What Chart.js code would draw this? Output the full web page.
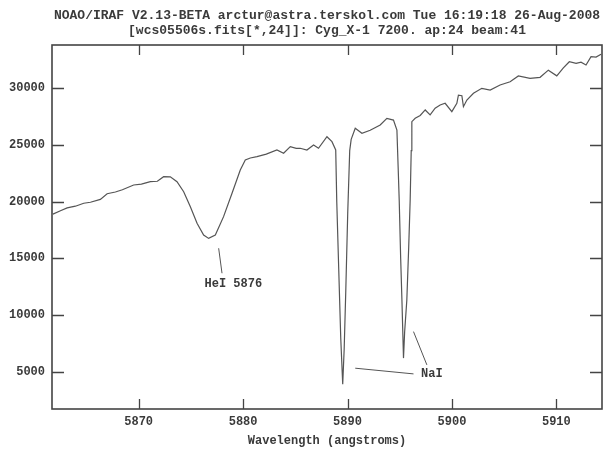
<!DOCTYPE html>
<html><head><meta charset="utf-8">
<script src="https://cdn.jsdelivr.net/npm/chart.js@4/dist/chart.umd.min.js"></script>
<style>html,body{margin:0;padding:0;background:#fff}#wrap{width:606px;height:451px}</style>
</head><body><div id="wrap"><canvas id="c" width="606" height="451"></canvas></div>
<script>
const titleLines = ["NOAO/IRAF V2.13-BETA arctur@astra.terskol.com Tue 16:19:18 26-Aug-2008",
                    "[wcs05506s.fits[*,24]]: Cyg_X-1 7200. ap:24 beam:41"];
const xTitle = "Wavelength (angstroms)";
const xTicks = [5870, 5880, 5890, 5900, 5910];
const yTicks = [5000, 10000, 15000, 20000, 25000, 30000];
const wavelength = [5861.79,5862.51,5863.15,5863.94,5864.74,5865.38,5866.33,5866.98,5867.77,5868.44,5869.52,5870.26,5871.12,5871.79,5872.39,5873.03,5873.67,5874.31,5874.95,5875.59,5876.22,5876.70,5877.34,5878.13,5878.94,5879.73,5880.21,5880.69,5881.33,5882.22,5883.24,5883.88,5884.52,5885.09,5885.47,5886.11,5886.75,5887.22,5888.03,5888.51,5888.87,5888.97,5889.16,5889.35,5889.54,5889.68,5889.83,5890.02,5890.21,5890.35,5890.74,5891.38,5892.17,5893.13,5893.77,5894.40,5894.73,5894.85,5894.95,5895.09,5895.21,5895.36,5895.47,5895.68,5895.86,5896.00,5896.10,5896.16,5896.48,5896.96,5897.44,5897.91,5898.39,5898.87,5899.35,5899.99,5900.47,5900.62,5900.95,5901.10,5901.43,5902.06,5902.86,5903.66,5904.61,5905.57,5906.36,5907.48,5908.44,5909.23,5910.04,5910.67,5911.24,5911.89,5912.36,5912.84,5913.32,5913.80,5914.28];
const flux = [18900,19200,19450,19600,19860,19950,20200,20700,20850,21050,21470,21550,21760,21800,22200,22190,21760,20880,19560,18100,17060,16760,17060,18680,20740,22800,23680,23850,23970,24200,24560,24270,24850,24700,24710,24560,25000,24710,25730,25290,24560,20000,14000,8000,3900,7000,12000,19000,24500,25500,26470,26030,26300,26760,27350,27200,26320,23000,20150,15000,11330,6200,8500,11330,16000,20150,24500,27060,27350,27600,28090,27650,28240,28530,28680,27940,28680,29400,29350,28380,28970,29560,30000,29850,30290,30580,31090,30880,30970,31600,31100,31800,32346,32200,32300,32055,32790,32750,33000];
const annotations = [
  {text: "HeI 5876", at: [5879.06, 12743], line: [[5877.66, 15891], [5877.98, 13686]]},
  {text: "NaI", at: [5898.08, 4762], line: [[5890.74, 5309], [5896.32, 4806]]},
  {text: "", at: null, line: [[5896.32, 8536], [5897.60, 5600]]}
];

const FONT = "'Liberation Mono', 'DejaVu Sans Mono', monospace";
const INK = '#3a3a3a';

const framePlugin = {
  id: 'frame',
  afterDatasetsDraw(chart) {
    const {ctx, chartArea: a, scales: {x, y}} = chart;
    ctx.save();
    ctx.strokeStyle = '#444';
    ctx.lineWidth = 1.6;
    ctx.strokeRect(a.left, a.top, a.right - a.left, a.bottom - a.top);
    ctx.beginPath();
    x.ticks.forEach(t => {
      const px = Math.round(x.getPixelForValue(t.value)) + 0.5;
      ctx.moveTo(px, a.bottom); ctx.lineTo(px, a.bottom - 10);
      ctx.moveTo(px, a.top); ctx.lineTo(px, a.top + 10);
    });
    y.ticks.forEach(t => {
      const py = Math.round(y.getPixelForValue(t.value)) + 0.5;
      ctx.moveTo(a.left, py); ctx.lineTo(a.left + 12, py);
      ctx.moveTo(a.right, py); ctx.lineTo(a.right - 12, py);
    });
    ctx.lineWidth = 1.3;
    ctx.stroke();
    // annotations
    ctx.strokeStyle = '#555';
    ctx.lineWidth = 1;
    ctx.fillStyle = INK;
    ctx.font = "bold 12px " + FONT;
    ctx.textAlign = 'center';
    ctx.textBaseline = 'middle';
    annotations.forEach(an => {
      ctx.beginPath();
      ctx.moveTo(x.getPixelForValue(an.line[0][0]), y.getPixelForValue(an.line[0][1]));
      ctx.lineTo(x.getPixelForValue(an.line[1][0]), y.getPixelForValue(an.line[1][1]));
      ctx.stroke();
      if (an.at) ctx.fillText(an.text, x.getPixelForValue(an.at[0]), y.getPixelForValue(an.at[1]));
    });
    ctx.restore();
  }
};

new Chart(document.getElementById('c'), {
  type: 'line',
  data: {
    datasets: [{
      data: wavelength.map((w, i) => ({x: w, y: flux[i]})),
      borderColor: '#555',
      borderWidth: 1.2,
      pointRadius: 0,
      tension: 0,
      fill: false
    }]
  },
  options: {
    responsive: false,
    animation: false,
    layout: {padding: {left: 0, right: 4, top: 0, bottom: 0}},
    plugins: {
      legend: {display: false},
      tooltip: {enabled: false},
      title: {
        display: true,
        fullSize: false,
        text: titleLines,
        color: INK,
        font: {family: FONT, size: 13, weight: 'bold', lineHeight: 1.154},
        padding: {top: 8.5, bottom: 6.5}
      }
    },
    scales: {
      x: {
        type: 'linear',
        min: 5861.7,
        max: 5914.37,
        afterBuildTicks: s => { s.ticks = xTicks.map(v => ({value: v})); },
        afterFit: s => { s.height = 42; },
        grid: {display: false, drawTicks: false},
        border: {display: false},
        ticks: {color: INK, font: {family: FONT, size: 12, weight: 'bold'}, padding: 6, maxRotation: 0,
                callback: v => String(v)},
        title: {display: true, text: xTitle, color: INK,
                font: {family: FONT, size: 12, weight: 'bold'}, padding: {top: 0, bottom: 3}}
      },
      y: {
        type: 'linear',
        min: 1710,
        max: 33820,
        afterBuildTicks: s => { s.ticks = yTicks.map(v => ({value: v})); },
        afterFit: s => { s.width = 52; },
        grid: {display: false, drawTicks: false},
        border: {display: false},
        ticks: {color: INK, font: {family: FONT, size: 12, weight: 'bold'}, padding: 7,
                callback: v => String(v)}
      }
    }
  },
  plugins: [framePlugin]
});
</script></body></html>
